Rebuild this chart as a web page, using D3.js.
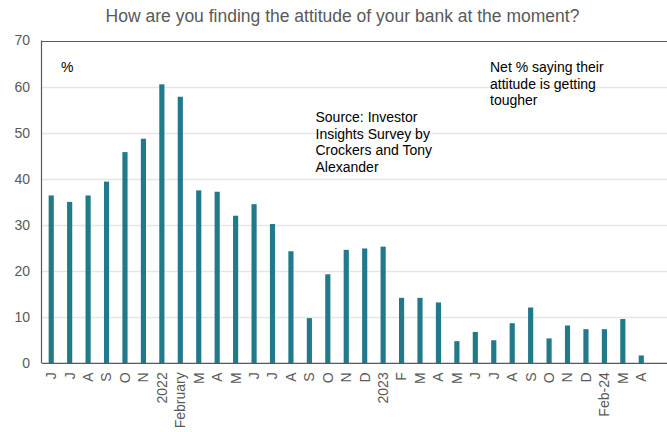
<!DOCTYPE html>
<html>
<head>
<meta charset="utf-8">
<script src="https://cdn.jsdelivr.net/npm/d3@7/dist/d3.min.js"></script>
<style>
  html, body { margin: 0; padding: 0; background: #fff; }
  svg { display: block; font-family: "Liberation Sans", Arial, sans-serif; }
</style>
</head>
<body>
<svg id="chart" width="667" height="432"></svg>
<script>
// Monthly survey readings, Jun 2021 – Apr 2024
const months = ["J","J","A","S","O","N","2022","February","M","A","M","J","J","A","S","O","N","D",
                "2023","F","M","A","M","J","J","A","S","O","N","D","Feb-24","M","A"];
const netTougher = [36.4, 35.0, 36.4, 39.4, 45.8, 48.7, 60.5, 57.8, 37.5, 37.2, 32.0, 34.5, 30.2,
                    24.3, 9.8, 19.3, 24.6, 24.9, 25.3, 14.2, 14.2, 13.2, 4.8, 6.8, 5.0, 8.7, 12.1,
                    5.4, 8.2, 7.4, 7.4, 9.6, 1.7];
const yTicks = [0, 10, 20, 30, 40, 50, 60, 70];

const svg = d3.select("#chart");
const plotLeft = 42, plotRight = 667, plotTop = 40.5, plotBottom = 363.3;
const bandRight = 650.5;

const x = d3.scaleBand().domain(d3.range(months.length)).range([plotLeft, bandRight])
  .paddingInner(0.72).paddingOuter(0.36);
const y = d3.scaleLinear().domain([0, 70]).range([plotBottom, plotTop]);

// gridlines
svg.append("g").selectAll("line").data(yTicks.filter(t => t > 0 && t < 70)).join("line")
  .attr("x1", plotLeft).attr("x2", plotRight)
  .attr("y1", d => Math.round(y(d)) + 0.5).attr("y2", d => Math.round(y(d)) + 0.5)
  .attr("stroke", "#e6e6e6").attr("stroke-width", 1.3);

// bars
svg.append("g").selectAll("rect").data(netTougher).join("rect")
  .attr("x", (d, i) => x(i))
  .attr("width", x.bandwidth())
  .attr("y", d => y(d))
  .attr("height", d => y(0) - y(d))
  .attr("fill", "#217a8a");

// frame: top, left, bottom
const frameColor = "#595959";
svg.append("line").attr("x1", plotLeft).attr("x2", plotRight)
  .attr("y1", Math.round(plotTop) + 0.5).attr("y2", Math.round(plotTop) + 0.5)
  .attr("stroke", frameColor).attr("stroke-width", 1.2);
svg.append("line").attr("x1", plotLeft - 0.5).attr("x2", plotLeft - 0.5).attr("y1", plotTop).attr("y2", plotBottom)
  .attr("stroke", frameColor).attr("stroke-width", 1.2);
svg.append("line").attr("x1", plotLeft).attr("x2", plotRight).attr("y1", plotBottom).attr("y2", plotBottom)
  .attr("stroke", frameColor).attr("stroke-width", 1.2);

// y axis labels
const yAxis = d3.axisLeft(y).tickValues(yTicks).tickSize(0).tickPadding(12);
const gy = svg.append("g").attr("transform", `translate(${plotLeft},0)`).call(yAxis);
gy.select(".domain").remove();
gy.selectAll("text").attr("fill", "#595959").style("font-size", "14px")
  .style("font-family", "'Liberation Sans', Arial, sans-serif");

// x axis labels, rotated
const xAxis = d3.axisBottom(x).tickFormat(i => months[i]).tickSize(0).tickPadding(0);
const gx = svg.append("g").attr("transform", `translate(0,${plotBottom})`).call(xAxis);
gx.select(".domain").remove();
gx.selectAll("text")
  .attr("fill", "#595959").style("font-size", "14px")
  .style("font-family", "'Liberation Sans', Arial, sans-serif")
  .attr("transform", "rotate(-90)")
  .attr("text-anchor", "end")
  .attr("x", -9).attr("y", 0).attr("dy", "0.35em");

// title
svg.append("text").attr("x", 342.5).attr("y", 22).attr("text-anchor", "middle")
  .attr("fill", "#595959").style("font-size", "17.5px")
  .text("How are you finding the attitude of your bank at the moment?");

// annotations
svg.append("text").attr("x", 61).attr("y", 72).attr("fill", "#000").style("font-size", "14px").text("%");

const note1 = ["Net % saying their", "attitude is getting", "tougher"];
svg.append("text").attr("fill", "#000").style("font-size", "14px")
  .selectAll("tspan").data(note1).join("tspan")
  .attr("x", 490).attr("y", (d, i) => 72 + i * 16.7).text(d => d);

const note2 = ["Source: Investor", "Insights Survey by", "Crockers and Tony", "Alexander"];
svg.append("text").attr("fill", "#000").style("font-size", "14px")
  .selectAll("tspan").data(note2).join("tspan")
  .attr("x", 315.5).attr("y", (d, i) => 122 + i * 16.7).text(d => d);
</script>
</body>
</html>
